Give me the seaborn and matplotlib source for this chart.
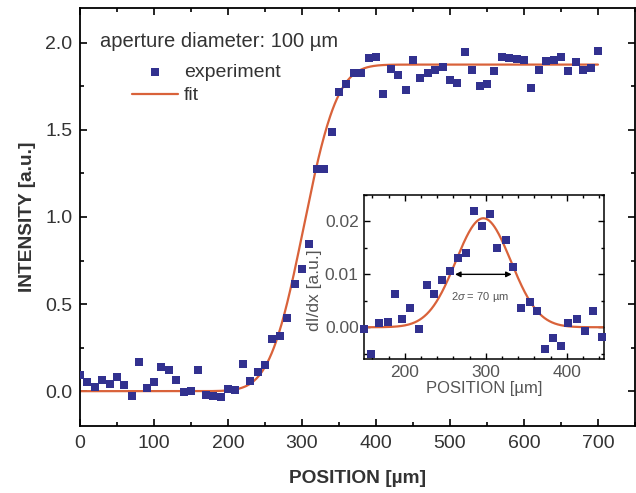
import math
import numpy as np
import pandas as pd
import matplotlib
matplotlib.use("Agg")
import matplotlib.pyplot as plt
from matplotlib.ticker import MultipleLocator, FormatStrFormatter
import seaborn as sns

# ---------------- data ----------------
position = [0, 10, 20, 30, 40, 50, 60, 70, 80, 90,
            100, 110, 120, 130, 140, 150, 160, 170, 180, 190,
            200, 210, 220, 230, 240, 250, 260, 270, 280, 290,
            300, 310, 320, 330, 340, 350, 360, 370, 380, 390,
            400, 410, 420, 430, 440, 450, 460, 470, 480, 490,
            500, 510, 520, 530, 540, 550, 560, 570, 580, 590,
            600, 610, 620, 630, 640, 650, 660, 670, 680, 690, 700]
intensity = [0.094, 0.052, 0.025, 0.063, 0.040, 0.084, 0.033, -0.030, 0.166, 0.021,
             0.052, 0.140, 0.121, 0.065, -0.006, 0.000, 0.121, -0.021, -0.027, -0.032,
             0.012, 0.008, 0.157, 0.061, 0.112, 0.152, 0.297, 0.314, 0.421, 0.616,
             0.700, 0.846, 1.274, 1.276, 1.486, 1.718, 1.763, 1.827, 1.827, 1.912,
             1.921, 1.708, 1.852, 1.816, 1.731, 1.902, 1.797, 1.825, 1.844, 1.859,
             1.788, 1.771, 1.949, 1.844, 1.750, 1.761, 1.836, 1.916, 1.911, 1.907,
             1.901, 1.738, 1.844, 1.897, 1.901, 1.916, 1.838, 1.892, 1.846, 1.853, 1.955]

# error-function fit of the main curve: offset, step height, centre, sigma
fit_offset = 0.0
fit_height = 1.875
fit_center = 302.0
fit_sigma = 36.0

inset_position = [150, 158, 168, 179, 188, 197, 207, 217, 227, 236,
                  246, 256, 266, 276, 286, 295, 305, 314, 325, 334,
                  344, 354, 363, 373, 383, 393, 402, 413, 423, 432, 443]
inset_dIdx = [-0.0004, -0.0050, 0.0008, 0.0009, 0.0062, 0.0015, 0.0036, -0.0003, 0.0080, 0.0062,
              0.0090, 0.0106, 0.0131, 0.0140, 0.0220, 0.0191, 0.0214, 0.0149, 0.0164, 0.0114,
              0.0036, 0.0048, 0.0030, -0.0042, -0.0021, -0.0036, 0.0008, 0.0015, -0.0008, 0.0030, -0.0018]

# gaussian fit of the derivative: amplitude, centre, sigma
g_amp = 0.0206
g_center = 297.0
g_sigma = 34.0
arrow_from, arrow_to, arrow_level = 262, 332, 0.010

main_xticks = [0, 100, 200, 300, 400, 500, 600, 700]
main_yticks = [0.0, 0.5, 1.0, 1.5, 2.0]
inset_xticks = [200, 300, 400]
inset_yticks = [0.00, 0.01, 0.02]

# ---------------- style ----------------
sns.set_theme(style="ticks")
plt.rcParams["font.family"] = ["Liberation Sans", "DejaVu Sans"]
plt.rcParams["mathtext.fontset"] = "custom"
plt.rcParams["mathtext.it"] = "Liberation Sans:italic"
plt.rcParams["mathtext.rm"] = "Liberation Sans"

MARK = "#32318f"
FIT = "#d9623a"
TXT = "#333333"
GRY = "#555555"

fig = plt.figure(figsize=(6.36, 4.93), dpi=100)
ax = fig.add_axes([0.1258, 0.1359, 0.8726, 0.8479])

df = pd.DataFrame({"x": position, "y": intensity})
xf = np.linspace(0, 700, 701)
yf = [fit_offset + fit_height / 2 * (1 + math.erf((v - fit_center) / (math.sqrt(2) * fit_sigma))) for v in xf]
dff = pd.DataFrame({"x": xf, "y": yf})

sns.scatterplot(data=df, x="x", y="y", ax=ax, marker="s", s=32, color=MARK,
                linewidth=0, label="experiment", zorder=3)
sns.lineplot(data=dff, x="x", y="y", ax=ax, color=FIT, lw=1.6, label="fit", zorder=2)

ax.set_xlim(0, 750)
ax.set_ylim(-0.2, 2.2)
ax.set_xticks(main_xticks)
ax.set_yticks(main_yticks)
ax.xaxis.set_minor_locator(MultipleLocator(50))
ax.yaxis.set_minor_locator(MultipleLocator(0.25))
ax.yaxis.set_major_formatter(FormatStrFormatter("%.1f"))
ax.tick_params(which="both", direction="in", top=True, right=True, colors="black",
               labelcolor=TXT, labelsize=14, width=1.2)
ax.tick_params(which="major", length=5)
ax.tick_params(which="minor", length=3)
ax.tick_params(axis="x", which="major", pad=6.5)
ax.tick_params(axis="y", which="major", pad=5.5)
for sp in ax.spines.values():
    sp.set_visible(True)
    sp.set_color("black")
    sp.set_linewidth(1.3)
ax.set_xlabel("POSITION [µm]", fontsize=13.8, fontweight="bold", color=TXT, labelpad=13)
ax.set_ylabel("INTENSITY [a.u.]", fontsize=13.8, fontweight="bold", color=TXT, labelpad=7)

ax.text(0.036, 0.919, "aperture diameter: 100 µm", transform=ax.transAxes,
        ha="left", va="center", fontsize=14.5, color=TXT)
leg = ax.legend(loc="upper left", bbox_to_anchor=(0.0937, 0.868), frameon=False,
                fontsize=14, borderpad=0, borderaxespad=0, handlelength=2.37,
                handletextpad=0.3, labelspacing=0.31, markerscale=1.0)
for t in leg.get_texts():
    t.set_color(TXT)

# ---------------- inset ----------------
ins = fig.add_axes([0.5728, 0.2718, 0.3769, 0.3327])
dfi = pd.DataFrame({"x": inset_position, "y": inset_dIdx})
xg = np.linspace(150, 446, 400)
yg = [g_amp * math.exp(-((v - g_center) ** 2) / (2 * g_sigma ** 2)) for v in xg]
dfg = pd.DataFrame({"x": xg, "y": yg})
sns.lineplot(data=dfg, x="x", y="y", ax=ins, color=FIT, lw=1.6, zorder=2)
sns.scatterplot(data=dfi, x="x", y="y", ax=ins, marker="s", s=32, color=MARK,
                linewidth=0, zorder=3, clip_on=False)
ins.set_xlim(150, 446)
ins.set_ylim(-0.006, 0.025)
ins.set_xticks(inset_xticks)
ins.set_yticks(inset_yticks)
ins.xaxis.set_minor_locator(MultipleLocator(20))
ins.yaxis.set_minor_locator(MultipleLocator(0.005))
ins.yaxis.set_major_formatter(FormatStrFormatter("%.2f"))
ins.tick_params(which="both", direction="in", top=True, right=True, colors="black",
                labelcolor=GRY, labelsize=12.5, width=1.0)
ins.tick_params(which="major", length=4, pad=4)
ins.tick_params(which="minor", length=2.5)
for sp in ins.spines.values():
    sp.set_visible(True)
    sp.set_color("black")
    sp.set_linewidth(1.1)
ins.set_xlabel("POSITION [µm]", fontsize=12, color=GRY, labelpad=1)
ins.set_ylabel("dI/dx [a.u.]", fontsize=12.5, color=GRY)
ins.yaxis.set_label_coords(-0.176, 0.42)
ins.annotate("", xy=(arrow_to, arrow_level), xytext=(arrow_from, arrow_level),
             arrowprops=dict(arrowstyle="<|-|>", color="black", lw=1.0,
                             mutation_scale=8, shrinkA=0, shrinkB=0))
ins.text((arrow_from + arrow_to) / 2 - 4, 0.0058, r"2$\it{\sigma}$ = 70 µm", ha="center",
         va="center", fontsize=8, color=GRY)
if ins.get_legend() is not None:
    ins.get_legend().remove()

fig.savefig("out.png", dpi=100)
